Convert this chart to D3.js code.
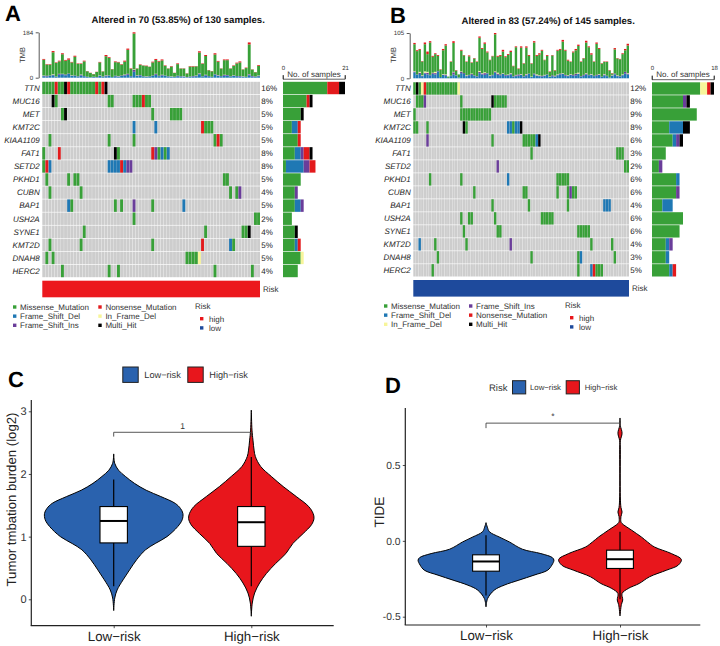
<!DOCTYPE html>
<html><head><meta charset="utf-8">
<script src="https://cdn.jsdelivr.net/npm/d3@7"></script>
<style>html,body{margin:0;padding:0;background:#fff}svg{display:block}text{font-family:"Liberation Sans",Arial,sans-serif;text-rendering:geometricPrecision}</style>
</head><body><svg id="c" width="720" height="646"></svg>
<script>
const genes = ["TTN","MUC16","MET","KMT2C","KIAA1109","FAT1","SETD2","PKHD1","CUBN","BAP1","USH2A","SYNE1","KMT2D","DNAH8","HERC2"];
const pctA = [16,8,5,5,5,8,8,5,4,5,2,4,5,5,4];
const pctB = [12,8,9,8,6,3,2,6,6,4,6,6,4,3,5];
// M missense, D frame-shift del, I frame-shift ins, F in-frame del, N nonsense, H multi-hit
const typeOrder = ["M","D","I","F","N","H"];
const typeColor = ["#38a038","#1f78b4","#6a3d9a","#f7f59a","#e31a1c","#000000"];
const mutA = [
 "M:0-3,5,6,9-16,18 N:4,8,17,19 H:7,20",
 "M:4,21,22,29-31,33,34 N:32 H:3",
 "M:6,35,41-44 H:7",
 "M:52-54 D:29,36 N:51",
 "M:2,21,29,55,57 N:56",
 "M:0,24,37,39 D:38,40 I:36 N:5,35 H:23",
 "M:0 D:2,21-24,26 I:27,28 N:1,25",
 "M:1,8,10,11,58,59",
 "M:2,12,60,62 I:63",
 "M:9,23,25,35 D:8,45 I:29",
 "M:29,68,69",
 "M:13,52,64,65 H:66",
 "M:2,12,35,61 D:60 N:51",
 "M:1,3,46-49 F:50",
 "M:6,21,24,55,67"];
const mutB = [
 "M:0,2,5-16 F:3,17 N:4 H:1",
 "M:1-3,18,31-35 I:4 H:30",
 "M:0,18-29",
 "M:0,1,5,20,38 D:36,37,39,40 H:19,41",
 "M:30,42-46 D:47 I:5 H:48",
 "M:45,78-80",
 "M:81,82 I:32",
 "M:6,18,55-59 D:36",
 "M:23,42,43,55,59,61,62 I:60",
 "M:30,44,59 D:73-75",
 "M:18,21,22,31,49-53",
 "M:19,32,33,63-67",
 "M:8,20,68,76 D:2 I:37",
 "M:9,45,63,77 D:64",
 "M:7,63,70-72 D:68 N:69"];
const tmbTotalA = [76,55,55,108,62,69,99,72,78,64, 89,58,58,69,27,20,15,24,64,26, 92,83,35,66,64,55,69,118,38,184, 38,54,50,49,45,65,76,68,74,50, 38,47,20,58,38,38,18,47,47,47, 107,58,92,31,27,99,68,38,74,74, 38,50,61,66,34,41,143,34,23,51];
const tmbDelA = [6,5,8,10,4,12,14,10,15,8, 7,5,9,6,3,2,3,2,7,4, 6,8,3,6,5,7,9,12,6,24, 7,9,5,4,5,7,12,6,9,8, 5,4,3,6,5,5,2,4,5,6, 14,5,9,6,3,12,8,6,8,9, 5,7,6,5,4,3,10,5,4,6];
const tmbInsA = [2,3,1,2,1,4,1,3,2,1, 2,1,3,1,1,0,1,1,2,1, 3,1,0,2,1,2,3,4,1,8, 2,2,1,1,1,2,3,2,2,1, 1,1,1,2,1,1,1,1,2,2, 3,1,2,1,1,2,2,1,3,2, 1,2,1,2,1,1,4,2,1,2];
const tmbInFrameA = [1,0,0,2,0,0,1,0,0,1, 0,0,1,0,0,0,0,0,1,0, 1,0,0,0,1,0,1,0,0,2, 1,0,0,1,0,0,1,0,1,0, 0,1,0,0,0,1,0,0,0,1, 1,0,1,0,0,0,1,0,1,0, 0,1,0,0,1,0,1,0,0,1];
const tmbNonA = [3,2,2,5,2,3,4,3,5,2, 4,2,2,3,1,1,1,1,2,1, 5,3,1,3,2,2,4,5,2,5, 1,2,1,2,1,3,4,3,4,2, 1,2,1,3,1,1,1,2,2,1, 5,2,4,1,1,5,3,1,3,3, 1,2,3,4,1,2,8,1,1,3];
const tmbTotalB = [82,65,68,40,83,62,86,52,58,54, 21,68,79,4,39,86,19,9,66,54, 39,53,37,47,39,97,70,83,62,43, 52,105,52,54,66,51,56,64,29,74, 23,74,35,74,54,35,86,54,58,66, 43,54,16,54,19,66,68,89,66,43, 39,62,68,78,39,47,87,74,58,39, 83,70,35,39,39,19,12,70,47,45, 58,68,80];
const tmbDelB = [14,8,10,5,11,9,7,10,9,16, 3,8,6,1,5,9,6,2,12,10, 5,7,8,6,4,12,9,8,11,5, 7,13,8,7,10,6,7,9,4,5, 6,8,4,7,10,3,9,6,5,4, 6,8,3,5,4,7,9,10,6,5, 8,6,7,10,4,6,9,7,8,5, 6,8,3,7,5,2,6,9,5,4, 7,11,9];
const tmbInsB = [2,1,3,1,2,4,1,2,3,1, 0,1,2,0,1,5,1,0,3,2, 1,1,2,1,1,3,2,4,1,1, 1,2,3,2,1,2,1,2,1,2, 3,1,1,2,1,0,2,1,1,2, 1,1,0,2,1,1,2,1,2,1, 1,2,3,1,1,2,2,1,1,1, 2,1,1,2,1,0,1,2,1,1, 1,4,2];
const tmbInFrameB = [1,0,2,1,3,2,0,1,3,0, 0,1,1,0,0,1,0,0,1,0, 1,0,1,0,0,2,1,2,0,1, 0,1,2,0,1,0,1,1,0,1, 0,1,0,1,0,1,0,2,1,0, 1,0,1,0,1,1,0,1,0,1, 1,0,1,2,0,0,1,0,1,0, 0,1,0,1,0,0,1,0,1,0, 1,0,1];
const tmbNonB = [3,2,2,1,4,6,3,2,2,2, 1,3,3,0,1,4,1,0,2,1, 1,2,1,1,1,3,2,3,2,1, 1,3,2,2,4,2,2,3,1,2, 1,3,1,3,2,1,3,2,3,2, 1,2,1,1,1,2,2,4,2,2, 1,2,3,3,1,1,4,2,3,1, 3,2,1,1,1,1,1,3,1,1, 2,3,4];
const legendA = [["Missense_Mutation","Frame_Shift_Del","Frame_Shift_Ins"],["Nonsense_Mutation","In_Frame_Del","Multi_Hit"]];
const legendAColors = [["#38a038","#1f78b4","#6a3d9a"],["#e31a1c","#f7f59a","#000000"]];
const legendB = [["Missense_Mutation","Frame_Shift_Del","In_Frame_Del"],["Frame_Shift_Ins","Nonsense_Mutation","Multi_Hit"]];
const legendBColors = [["#38a038","#1f78b4","#f7f59a"],["#6a3d9a","#e31a1c","#000000"]];
const riskLevels = ["high","low"];
const riskColors = ["#e9171c","#1e4a9c"];

const cLowV  = [2.32,2.17,2.06,1.96,1.85,1.74,1.64,1.53,1.45,1.37,1.27,1.16,1.0,.89,.79,.63,.47,.31,.15,.02,-.18];
const cLowD  = [0,.015,.07,.17,.30,.47,.68,.89,.965,1,.99,.925,.77,.60,.46,.33,.23,.135,.05,.015,0];
const cHighV = [3.02,2.70,2.54,2.38,2.28,2.12,1.96,1.80,1.64,1.48,1.37,1.29,1.19,1.05,.89,.73,.57,.41,.26,.10,-.06,-.27];
const cHighD = [0,.01,.024,.04,.058,.135,.29,.46,.65,.83,.893,.906,.87,.75,.60,.50,.35,.217,.12,.048,.014,0];
const dLowV  = [.12,.09,.06,.026,-.007,-.055,-.084,-.11,-.127,-.16,-.193,-.226,-.259,-.292,-.325,-.38,-.435];
const dLowD  = [0,.02,.05,.19,.34,.53,.80,.966,.99,.96,.90,.70,.48,.265,.12,.024,0];
const dHighV = [.81,.76,.71,.66,.60,.29,.22,.19,.16,.125,.114,.07,.026,-.007,-.04,-.084,-.123,-.16,-.193,-.237,-.281,-.314,-.347,-.39,-.42,-.495];
const dHighD = [0,.005,.03,.005,.005,.005,.014,.03,.014,.014,.03,.17,.31,.40,.50,.75,.894,.85,.68,.43,.28,.12,.03,.04,.02,0];
const boxCLow  = [.21,.90,1.25,1.48,1.91];
const boxCHigh = [.21,.845,1.23,1.48,2.27];
const boxDLow  = [-.36,-.2,-.136,-.092,.037];
const boxDHigh = [-.385,-.182,-.121,-.0615,.06];
const groups = ["Low\u2212risk","High\u2212risk"];
const groupColors = ["#2a62ae","#e8161c"];

const svg = d3.select("#c");

function parseMut(s){
  const out=[];
  s.split(" ").forEach(p=>{
    const [t,l]=p.split(":");
    l.split(",").forEach(r=>{
      const [a,b]=r.split("-").map(Number);
      for(let i=a;i<=(b===undefined?a:b);i++) out.push({col:i,type:t});
    });
  });
  return out;
}

function onco(o){
  const g = svg.append("g");
  const n = o.total.length;
  const colIdx = d3.range(n);
  const x = d3.scaleBand().domain(colIdx).range([o.x0,o.x1]).paddingInner(0.08).paddingOuter(0);
  const y = d3.scaleBand().domain(genes).range([o.y0,o.y1]).paddingInner(0.05).paddingOuter(0);
  g.append("g").selectAll("g").data(genes).join("g").each(function(gene){
    d3.select(this).selectAll("rect").data(colIdx).join("rect")
      .attr("x",c=>x(c)).attr("y",y(gene)).attr("width",x.bandwidth()).attr("height",y.bandwidth()).attr("fill","#cdcdcd");
  });
  const color = d3.scaleOrdinal(typeOrder,typeColor);
  const muts = o.muts.map(parseMut);
  genes.forEach((gene,i)=>{
    g.append("g").selectAll("rect").data(muts[i]).join("rect")
      .attr("x",d=>x(d.col)).attr("y",y(gene)).attr("width",x.bandwidth()).attr("height",y.bandwidth()).attr("fill",d=>color(d.type));
  });
  g.append("g").selectAll("text").data(genes).join("text")
    .attr("x",o.x0-2.6).attr("y",d=>y(d)+y.bandwidth()/2+2.8).attr("text-anchor","end")
    .attr("font-size",8).attr("font-style","italic").attr("fill","#222").text(d=>d);
  g.append("g").selectAll("text").data(o.pct).join("text")
    .attr("x",o.x1+1.2).attr("y",(d,i)=>y(genes[i])+y.bandwidth()/2+2.8)
    .attr("font-size",8).attr("fill","#222").text(d=>d+"%");
  const rows = colIdx.map(i=>({i,D:o.del[i],I:o.ins[i],F:o.inf[i],M:o.total[i]-o.del[i]-o.ins[i]-o.inf[i]-o.non[i],N:o.non[i]}));
  const stack = d3.stack().keys(["D","I","F","M","N"])(rows);
  const yT = d3.scaleLinear().domain([0,o.tmbMax]).range([o.tb,o.tt]);
  g.append("g").selectAll("g").data(stack).join("g").attr("fill",s=>color(s.key)).selectAll("rect").data(s=>s).join("rect")
    .attr("x",d=>x(d.data.i)).attr("width",x.bandwidth()).attr("y",d=>yT(d[1])).attr("height",d=>yT(d[0])-yT(d[1]));
  const ax = g.append("g").attr("transform",`translate(${o.x0-3.6},0)`).call(d3.axisLeft(yT).tickValues([0,o.tmbMax]).tickSize(3).tickSizeOuter(0));
  ax.selectAll("text").attr("font-size",6.2).attr("font-family",null).attr("fill","#333").attr("dx",.5);
  ax.selectAll("line,path").attr("stroke","#111").attr("stroke-width",.7);
  g.append("text").attr("transform",`translate(${o.x0-17.5},55) rotate(-90)`).attr("text-anchor","middle").attr("font-size",7.5).attr("fill","#333").text("TMB");
  g.append("text").attr("x",(o.x0+o.x1)/2+o.titleDx).attr("y",o.titleY).attr("text-anchor","middle").attr("font-size",9.6).attr("font-weight","bold").attr("fill","#111").text(o.title);
  const xS = d3.scaleLinear().domain([0,o.sideMax]).range([o.sx0,o.sx1]);
  genes.forEach((gene,i)=>{
    const counts = d3.rollup(muts[i],v=>v.length,d=>d.type);
    let cum=0;
    const segs = typeOrder.filter(t=>counts.has(t)).map(t=>{const a=cum;cum+=counts.get(t);return {t,a,b:cum};});
    g.append("g").selectAll("rect").data(segs).join("rect")
      .attr("x",d=>xS(d.a)).attr("width",d=>xS(d.b)-xS(d.a)).attr("y",y(gene)).attr("height",y.bandwidth()).attr("fill",d=>color(d.t));
  });
  const sax = g.append("g").attr("transform",`translate(0,${o.y0-2.6})`).call(d3.axisTop(xS).tickValues([0,o.sideMax]).tickSize(4));
  sax.selectAll("path").attr("d",`M${o.sx0},-4V0H${o.sx1}V-4`).attr("stroke","#222").attr("stroke-width",.7).attr("fill","none");
  sax.selectAll("line").attr("stroke","#222").attr("stroke-width",.7);
  sax.selectAll("text").attr("font-size",6).attr("font-family",null).attr("fill","#333").attr("dy",-2.5);
  g.append("text").attr("x",(o.sx0+o.sx1)/2).attr("y",o.y0-5).attr("text-anchor","middle").attr("font-size",8).attr("fill","#333").text("No. of samples");
  g.append("rect").attr("x",o.x0).attr("y",o.ry).attr("width",o.x1-o.x0).attr("height",16.6).attr("fill",o.riskColor);
  g.append("text").attr("x",o.x1+3).attr("y",o.ry+11).attr("font-size",8).attr("fill","#333").text("Risk");
  o.legend.forEach((col,ci)=>col.forEach((t,ri)=>{
    const ly=o.ly+ri*9.15, lx=o.lx[ci];
    g.append("rect").attr("x",lx-1.7).attr("y",ly-1.7).attr("width",3.4).attr("height",3.4).attr("fill",o.legendColors[ci][ri]);
    g.append("text").attr("x",lx+5.4).attr("y",ly+2.8).attr("font-size",8).attr("fill","#333").text(t);
  }));
  g.append("text").attr("x",o.rx).attr("y",o.ly+2.1).attr("font-size",8).attr("fill","#333").text("Risk");
  riskLevels.forEach((t,i)=>{
    const ly=o.ly+11.7+i*9.2;
    g.append("rect").attr("x",o.rx+5).attr("y",ly-1.7).attr("width",3.4).attr("height",3.4).attr("fill",riskColors[i]);
    g.append("text").attr("x",o.rx+14).attr("y",ly+2.8).attr("font-size",8).attr("fill","#333").text(t);
  });
}

onco({x0:42.3,x1:260,y0:81.8,y1:277.2,total:tmbTotalA,del:tmbDelA,ins:tmbInsA,inf:tmbInFrameA,non:tmbNonA,muts:mutA,pct:pctA,
  tmbMax:184,tb:77.7,tt:32.3,title:"Altered in 70 (53.85%) of 130 samples.",titleDx:27,titleY:23,
  sideMax:21,sx0:283,sx1:345,ry:280.7,riskColor:"#ec181d",legend:legendA,legendColors:legendAColors,ly:307,lx:[14.7,100],rx:195});
onco({x0:413.3,x1:629,y0:82.3,y1:276.5,total:tmbTotalB,del:tmbDelB,ins:tmbInsB,inf:tmbInFrameB,non:tmbNonB,muts:mutB,pct:pctB,
  tmbMax:105,tb:78.3,tt:33,title:"Altered in 83 (57.24%) of 145 samples.",titleDx:27,titleY:23.5,
  sideMax:18,sx0:652,sx1:714,ry:280,riskColor:"#1e4a9c",legend:legendB,legendColors:legendBColors,ly:306,lx:[385.7,470.7],rx:565});

function panelLetter(t,x,y){svg.append("text").attr("x",x).attr("y",y).attr("font-size",22).attr("font-weight","bold").attr("fill","#000").text(t);}
panelLetter("A",5,21);panelLetter("B",390,23);panelLetter("C",8,387);panelLetter("D",385,393);

function violinPanel(o){
  const g = svg.append("g");
  const y = d3.scaleLinear().domain(o.yDom).range(o.yRange);
  const x = d3.scalePoint().domain(groups).range(o.centers);
  const w = d3.scaleLinear().domain([0,1]).range([0,o.wMax]);
  o.viol.forEach((v,i)=>{
    const pts = v[0].map((val,k)=>({val,d:v[1][k]}));
    const cx = x(groups[i]);
    const area = d3.area().curve(d3.curveCatmullRom.alpha(.5)).y(d=>y(d.val)).x0(d=>cx-w(d.d)).x1(d=>cx+w(d.d));
    g.append("path").attr("d",area(pts)).attr("fill",groupColors[i]).attr("stroke","#000").attr("stroke-width",1);
    const b = o.box[i], hw=o.boxHalf;
    g.append("line").attr("x1",cx).attr("x2",cx).attr("y1",y(b[0])).attr("y2",y(b[4])).attr("stroke","#000").attr("stroke-width",1.2);
    g.append("rect").attr("x",cx-hw).attr("width",2*hw).attr("y",y(b[3])).attr("height",y(b[1])-y(b[3])).attr("fill","#fff").attr("stroke","#000").attr("stroke-width",1.1);
    g.append("line").attr("x1",cx-hw).attr("x2",cx+hw).attr("y1",y(b[2])).attr("y2",y(b[2])).attr("stroke","#000").attr("stroke-width",2);
  });
  const by=y(o.brk), c0=x(groups[0]), c1=x(groups[1]);
  g.append("path").attr("d",`M${c0},${by+o.brkTip}V${by}H${c1}V${by+o.brkTip}`).attr("fill","none").attr("stroke","#444").attr("stroke-width",.9);
  g.append("text").attr("x",(c0+c1)/2).attr("y",by-o.labelDy).attr("text-anchor","middle").attr("font-size",8.5).attr("fill","#333").text(o.label);
  const ax = g.append("g").attr("transform",`translate(${o.axX},0)`).call(d3.axisLeft(y).tickValues(o.ticks).tickFormat(o.fmt).tickSize(2.5).tickPadding(2.2).tickSizeOuter(0));
  ax.select("path").attr("d",`M0,${o.axTop}V${o.axBot}`).attr("stroke","#222").attr("stroke-width",1.2);
  ax.selectAll("line").attr("stroke","#222").attr("stroke-width",.8);
  ax.selectAll("text").attr("font-size",o.tickFont).attr("font-family",null).attr("fill","#333");
  const bx = d3.axisBottom(x).tickSize(2.5).tickSizeOuter(0);
  const bg = g.append("g").attr("transform",`translate(0,${o.axBot})`).call(bx);
  bg.select("path").attr("d",`M${o.axX-.6},0H${o.axEnd}`).attr("stroke","#222").attr("stroke-width",1.2);
  bg.selectAll("line").attr("stroke","#222").attr("stroke-width",.8);
  bg.selectAll("text").attr("font-size",13.3).attr("font-family",null).attr("fill","#222").attr("dy",9.8);
  g.append("text").attr("transform",`translate(${o.titleX},${o.titleY}) rotate(-90)`).attr("text-anchor","middle").attr("font-size",o.titleFont).attr("fill","#222").text(o.title);
  if(o.legendTitle) g.append("text").attr("x",o.legendTitle[1]).attr("y",o.ly+3.4).attr("font-size",9.5).attr("fill","#333").text(o.legendTitle[0]);
  groups.forEach((t,i)=>{
    g.append("rect").attr("x",o.lx[i]).attr("y",o.ly-o.ls/2).attr("width",o.ls).attr("height",o.ls).attr("fill",groupColors[i]).attr("stroke","#222").attr("stroke-width",1);
    g.append("text").attr("x",o.ltx[i]).attr("y",o.ly+3).attr("font-size",o.lf).attr("fill","#333").text(t);
  });
}
violinPanel({yDom:[0,3],yRange:[599.3,411.3],centers:[113.7,251.3],wMax:69.2,boxHalf:13.7,
  viol:[[cLowV,cLowD],[cHighV,cHighD]],box:[boxCLow,boxCHigh],brk:2.665,brkTip:4.3,label:"1",labelDy:3,
  axX:31.3,axTop:400,axBot:625.7,axEnd:333.7,ticks:[0,1,2,3],fmt:d3.format("d"),tickFont:11,
  title:"Tumor tmbation burden (log2)",titleX:15.5,titleY:499.5,titleFont:13.2,
  ly:374.7,lx:[122.8,187.8],ls:15.4,ltx:[144.3,209.3],lf:9.2});
violinPanel({yDom:[-.5,.5],yRange:[616.7,465],centers:[486,620],wMax:68.6,boxHalf:13.4,
  viol:[[dLowV,dLowD],[dHighV,dHighD]],box:[boxDLow,boxDHigh],brk:.776,brkTip:5,label:"*",labelDy:4,
  axX:405.3,axTop:408,axBot:625,axEnd:700.3,ticks:[-.5,0,.5],fmt:d3.format(".1f"),tickFont:10.3,
  title:"TIDE",titleX:384,titleY:512,titleFont:13.5,
  ly:387.3,lx:[512.5,566.2],ls:13.2,ltx:[530,584.7],lf:7.8,legendTitle:["Risk",489]});
// d3.format gives a true minus; the reference shows a short hyphen
svg.selectAll("text").filter(function(){return this.textContent==="\u22120.5";}).text("-0.5");
</script></body></html>
